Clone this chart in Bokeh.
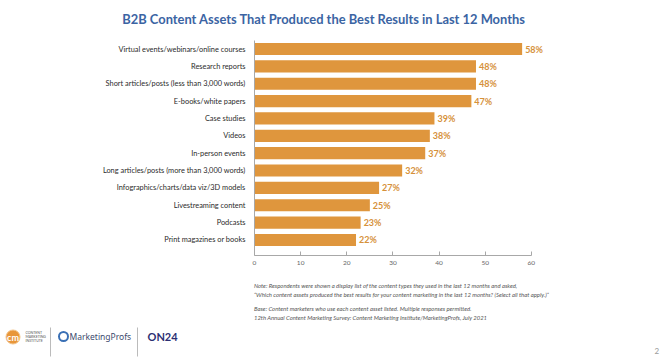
from bokeh.plotting import figure
from bokeh.models import Range1d, FixedTicker, ColumnDataSource
from bokeh.layouts import column
from bokeh.core.properties import value
from bokeh.embed import file_html
from bokeh.resources import INLINE

# ---------------- data ----------------
categories = [
    "Virtual events/webinars/online courses",
    "Research reports",
    "Short articles/posts (less than 3,000 words)",
    "E-books/white papers",
    "Case studies",
    "Videos",
    "In-person events",
    "Long articles/posts (more than 3,000 words)",
    "Infographics/charts/data viz/3D models",
    "Livestreaming content",
    "Podcasts",
    "Print magazines or books",
]
values = [58, 48, 48, 47, 39, 38, 37, 32, 27, 25, 23, 22]
x_ticks = [0, 10, 20, 30, 40, 50, 60]

title_text = "B2B Content Assets That Produced the Best Results in Last 12 Months"
notes = [
    "Note: Respondents were shown a display list of the content types they used in the last 12 months and asked,",
    "\u201cWhich content assets produced the best results for your content marketing in the last 12 months? (Select all that apply.)\u201d",
    "Base: Content marketers who use each content asset listed. Multiple responses permitted.",
    "12th Annual Content Marketing Survey: Content Marketing Institute/MarketingProfs, July 2021",
]

# ---------------- styles ----------------
BAR = "#DF963D"
VAL = "#D6913A"
TITLE = "#3B64A3"
FONT = "Lato"
W = 662


def canvas(top, bottom):
    """A plain drawing area whose data coordinates equal page pixels."""
    c = figure(width=W, height=bottom - top, x_range=Range1d(0, W),
               y_range=Range1d(bottom, top), min_border=0,
               x_axis_type=None, y_axis_type=None, output_backend="svg",
               toolbar_location=None, title=None)
    c.outline_line_color = None
    c.xgrid.visible = False
    c.ygrid.visible = False
    c.frame_align = False
    return c


# ---------------- header ----------------
head = canvas(0, 40)
head.text(x=[323.5], y=[18], text=[title_text], text_align="center", text_baseline="middle",
          text_font=value(FONT), text_font_style="bold", text_font_size="12.9px",
          text_color=TITLE)

# ---------------- main chart ----------------
LEFT, RIGHT, TOP, BOTTOM = 254, 85, 0, 20
H = 235
XMAX = 70
ROW = 17.36
FIRST = 8.5  # first row centre, px below the frame top
frame_h = H - TOP - BOTTOM
y_top = -FIRST / ROW
y_bot = (frame_h - FIRST) / ROW

src = ColumnDataSource(dict(
    y=list(range(len(categories))),
    v=values,
    lbl=[f"{v}%" for v in values],
))

p = figure(width=W, height=H, min_border_left=LEFT, min_border_right=RIGHT,
           min_border_top=TOP, min_border_bottom=BOTTOM,
           x_range=Range1d(0, XMAX), y_range=Range1d(y_bot, y_top),
           output_backend="svg", toolbar_location=None, title=None)
p.frame_align = False
p.outline_line_color = None
p.xgrid.visible = False
p.ygrid.visible = False

p.hbar(y="y", right="v", left=0, height=0.7, source=src, fill_color=BAR, line_color=None)
p.text(x="v", y="y", text="lbl", source=src, x_offset=3, text_baseline="middle",
       text_font=value(FONT), text_font_style="bold", text_font_size="9px", text_color=VAL)

xa = p.xaxis[0]
xa.ticker = FixedTicker(ticks=x_ticks)
xa.bounds = (0, 60)
xa.axis_line_color = "#a8a8a8"
xa.major_tick_line_color = "#a8a8a8"
xa.major_tick_in = 4
xa.major_tick_out = 0
xa.minor_tick_in = 0
xa.minor_tick_out = 0
xa.major_label_standoff = 5
xa.major_label_text_font = FONT
xa.major_label_text_font_size = "6.5px"
xa.major_label_text_color = "#666666"

ya = p.yaxis[0]
ya.ticker = FixedTicker(ticks=list(range(len(categories))))
ya.major_label_overrides = {i: c for i, c in enumerate(categories)}
ya.axis_line_color = "#a8a8a8"
ya.major_tick_in = 0
ya.major_tick_out = 0
ya.minor_tick_in = 0
ya.minor_tick_out = 0
ya.major_label_standoff = 9
ya.major_label_text_font = FONT
ya.major_label_text_font_size = "7.4px"
ya.major_label_text_color = "#2b2b2b"

# ---------------- notes + footer ----------------
foot = canvas(275, 363)
foot.text(x=[253.5] * len(notes), y=[285, 294, 307.7, 316.5], text=notes,
          text_baseline="middle", text_font=value(FONT), text_font_style="italic",
          text_font_size="5.9px", text_color="#555555")

foot.circle(x=[12.5], y=[336.5], radius=7, fill_color="#E8963A", line_color="#F3C48A", line_width=1)
foot.text(x=[12.5], y=[337], text=["cm"], text_align="center", text_baseline="middle",
          text_font=value(FONT), text_font_style="bold", text_font_size="9px", text_color="white")
foot.text(x=[25, 25, 25], y=[332, 336, 340], text=["CONTENT", "MARKETING", "INSTITUTE"],
          text_baseline="middle", text_font=value(FONT), text_font_size="3.5px", text_color="#555555")
foot.segment(x0=[50, 137], y0=[327, 327], x1=[50, 137], y1=[356, 356], line_color="#bbbbbb", line_width=1)
foot.circle(x=[63], y=[336], radius=4.5, fill_color="white", line_color="#3A70B5", line_width=2)
foot.text(x=[69], y=[336], text=["MarketingProfs"], text_baseline="middle",
          text_font=value("Noto Sans"), text_font_size="8.5px", text_color="#3C4A6E")
foot.text(x=[147], y=[336], text=["ON24"], text_baseline="middle",
          text_font=value(FONT), text_font_style="bold", text_font_size="11px", text_color="#2B2F73")
foot.text(x=[654], y=[350], text=["2"], text_baseline="middle",
          text_font=value(FONT), text_font_size="8px", text_color="#999999")

layout = column(head, p, foot, spacing=0)
open("out.html", "w").write(file_html(layout, INLINE))
